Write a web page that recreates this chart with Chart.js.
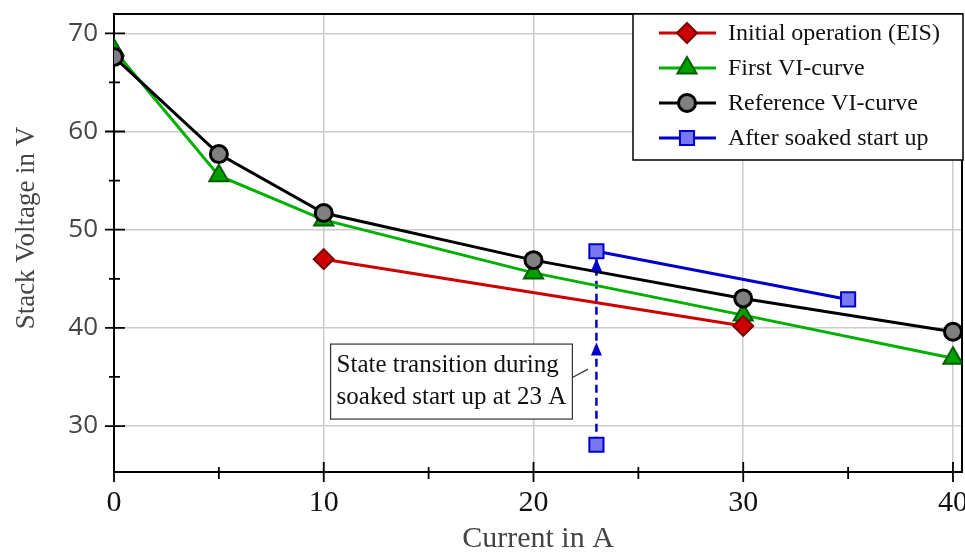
<!DOCTYPE html>
<html>
<head>
<meta charset="utf-8">
<script src="https://cdn.jsdelivr.net/npm/chart.js@4.4.1/dist/chart.umd.min.js"></script>
<style>
  html, body { margin: 0; padding: 0; background: #fff; }
  #wrap { width: 965px; height: 552px; position: relative; }
</style>
</head>
<body>
<div id="wrap"><canvas id="chart"></canvas></div>
<script>
// --- data ---
const seriesNames = ['Initial operation (EIS)', 'First VI-curve', 'Reference VI-curve', 'After soaked start up'];
const eisCurrent = [10, 30];
const eisVoltage = [47.0, 40.2];
const firstCurrent = [0, 5, 10, 20, 30, 40];
const firstVoltage = [68.3, 55.5, 51.0, 45.6, 41.3, 36.9];
const refCurrent = [0, 5, 10, 20, 30, 40];
const refVoltage = [67.6, 57.7, 51.7, 46.9, 43.0, 39.6];
const soakCurrent = [23, 35];
const soakVoltage = [47.8, 42.9];
const transitionCurrent = [23, 23];
const transitionVoltage = [28.1, 47.8];
const transitionArrows = [38.5, 47.1];
const xMajor = [0, 10, 20, 30, 40];
const xMinor = [5, 15, 25, 35];
const yMajor = [30, 40, 50, 60, 70];
const yMinor = [35, 45, 55, 65];
const yTitle = 'Stack Voltage in V';
const noteLines = ['State transition during', 'soaked start up at 23 A'];

const SERIF = '"Liberation Serif", "Times New Roman", serif';
const SANS = '"Open Sans", "DejaVu Sans", sans-serif';

const toXY = (xs, ys) => xs.map((x, i) => ({ x: x, y: ys[i] }));
const noPadding = () => ({ left: 0, top: 0, right: 0, bottom: 0 });

const datasets = [
    {
        label: seriesNames[0], data: toXY(eisCurrent, eisVoltage), order: 2,
        borderColor: '#cc0000', borderWidth: 3,
        pointStyle: 'rectRot', pointRadius: 10, pointBackgroundColor: '#cc0000',
        pointBorderColor: '#7a0000', pointBorderWidth: 2
    },
    {
        label: seriesNames[1], data: toXY(firstCurrent, firstVoltage), order: 3,
        borderColor: '#00b000', borderWidth: 3,
        pointStyle: 'triangle', pointRadius: 11, pointBackgroundColor: '#00a000',
        pointBorderColor: '#005f00', pointBorderWidth: 2
    },
    {
        label: seriesNames[2], data: toXY(refCurrent, refVoltage), order: 1,
        borderColor: '#000000', borderWidth: 3,
        pointStyle: 'circle', pointRadius: 8.5, pointBackgroundColor: '#808080',
        pointBorderColor: '#000000', pointBorderWidth: 3
    },
    {
        label: seriesNames[3], data: toXY(soakCurrent, soakVoltage), order: 0,
        borderColor: '#0000cc', borderWidth: 3,
        pointStyle: 'rect', pointRadius: 10, pointBackgroundColor: '#7878f0',
        pointBorderColor: '#0000cc', pointBorderWidth: 2
    },
    {
        label: 'transition', data: toXY(transitionCurrent, transitionVoltage), order: 4,
        borderColor: '#0000cc', borderWidth: 2.5, borderDash: [8, 5],
        pointStyle: 'rect', pointRadius: [10, 0], pointBackgroundColor: '#7878f0',
        pointBorderColor: '#0000cc', pointBorderWidth: 2
    }
];

// frame, tick marks, y title, arrows, note box and legend
const decorations = {
    id: 'decorations',
    beforeDatasetsDraw(chart) {
        const { ctx, chartArea: a, scales: { x, y } } = chart;
        ctx.save();
        ctx.strokeStyle = '#000';
        ctx.lineWidth = 2;
        ctx.strokeRect(a.left, a.top, a.right - a.left, a.bottom - a.top);
        ctx.lineWidth = 1.8;
        ctx.beginPath();
        yMajor.forEach(v => { const p = y.getPixelForValue(v); ctx.moveTo(a.left - 9, p); ctx.lineTo(a.left + 11, p); });
        yMinor.forEach(v => { const p = y.getPixelForValue(v); ctx.moveTo(a.left - 5, p); ctx.lineTo(a.left + 6, p); });
        xMajor.forEach(v => { const p = x.getPixelForValue(v); ctx.moveTo(p, a.bottom + 10); ctx.lineTo(p, a.bottom - 10); });
        xMinor.forEach(v => { const p = x.getPixelForValue(v); ctx.moveTo(p, a.bottom + 7); ctx.lineTo(p, a.bottom - 5); });
        ctx.stroke();

        // y axis title, placed a little above the plot centre as in the reference
        ctx.translate(34, 228);
        ctx.rotate(-Math.PI / 2);
        ctx.font = '27px ' + SERIF;
        ctx.fillStyle = '#444';
        ctx.textAlign = 'center';
        ctx.textBaseline = 'alphabetic';
        ctx.fillText(yTitle, 0, 0);
        ctx.restore();
    },
    afterDatasetsDraw(chart) {
        const { ctx, scales: { x, y } } = chart;
        ctx.save();

        // arrow heads on the dashed transition line
        ctx.fillStyle = '#0000cc';
        transitionArrows.forEach(v => {
            const px = x.getPixelForValue(transitionCurrent[0]);
            const py = y.getPixelForValue(v);
            ctx.beginPath();
            ctx.moveTo(px, py);
            ctx.lineTo(px - 5.5, py + 13);
            ctx.lineTo(px + 5.5, py + 13);
            ctx.closePath();
            ctx.fill();
        });

        // note box
        ctx.font = '25px ' + SERIF;
        const cx = x.getPixelForValue(16.09), cy = y.getPixelForValue(34.53);
        const w = Math.max(...noteLines.map(t => ctx.measureText(t).width)) + 12;
        const h = 75;
        ctx.fillStyle = '#fff';
        ctx.fillRect(cx - w / 2, cy - h / 2, w, h);
        ctx.strokeStyle = '#333';
        ctx.lineWidth = 1.2;
        ctx.strokeRect(cx - w / 2, cy - h / 2, w, h);
        ctx.beginPath();
        ctx.moveTo(cx + w / 2, cy - 4);
        ctx.lineTo(x.getPixelForValue(22.6), y.getPixelForValue(35.8));
        ctx.stroke();
        ctx.fillStyle = '#111';
        ctx.textAlign = 'left';
        ctx.textBaseline = 'middle';
        noteLines.forEach((t, i) => ctx.fillText(t, cx - w / 2 + 6, cy - 16 + i * 32));

        // legend
        const lx = 633, ly = 14, lw = 330, lh = 146;
        ctx.fillStyle = '#fff';
        ctx.fillRect(lx, ly, lw, lh);
        ctx.strokeStyle = '#000';
        ctx.lineWidth = 1.5;
        ctx.strokeRect(lx, ly, lw, lh);
        ctx.font = '24px ' + SERIF;
        seriesNames.forEach((name, i) => {
            const ds = chart.data.datasets[i];
            const ry = ly + 19 + i * 35;
            ctx.strokeStyle = ds.borderColor;
            ctx.lineWidth = ds.borderWidth;
            ctx.beginPath();
            ctx.moveTo(lx + 26, ry);
            ctx.lineTo(lx + 83, ry);
            ctx.stroke();
            ctx.fillStyle = ds.pointBackgroundColor;
            ctx.strokeStyle = ds.pointBorderColor;
            ctx.lineWidth = ds.pointBorderWidth;
            Chart.helpers.drawPoint(ctx, { pointStyle: ds.pointStyle, radius: ds.pointRadius, rotation: 0, borderWidth: ds.pointBorderWidth }, lx + 54, ry);
            ctx.fillStyle = '#111';
            ctx.fillText(name, lx + 95, ry + 1);
        });
        ctx.restore();
    }
};

new Chart(document.getElementById('chart'), {
    type: 'line',
    data: { datasets: datasets },
    options: {
        responsive: true, maintainAspectRatio: false, animation: false,
        layout: { autoPadding: false, padding: { top: 14, right: 3, left: 0, bottom: 0 } },
        plugins: { legend: { display: false }, tooltip: { enabled: false } },
        scales: {
            x: {
                type: 'linear', min: 0, max: 40.43,
                afterFit: s => { s.height = 80; s.paddingLeft = 0; s.paddingRight = 0; s.getPadding = noPadding; },
                afterBuildTicks: s => { s.ticks = xMajor.map(v => ({ value: v })); },
                grid: { color: '#cccccc', lineWidth: 1.5, drawTicks: false },
                border: { display: false },
                ticks: { padding: 13, color: '#111', font: { family: SERIF, size: 30 }, maxRotation: 0 },
                title: { display: true, text: 'Current in A', color: '#444', font: { family: SERIF, size: 30, lineHeight: 0.85 }, padding: { top: 0, bottom: 0 } }
            },
            y: {
                type: 'linear', min: 25.32, max: 71.97,
                afterFit: s => { s.width = 114; s.paddingTop = 0; s.paddingBottom = 0; s.getPadding = noPadding; },
                afterBuildTicks: s => { s.ticks = yMajor.map(v => ({ value: v })); },
                grid: { color: '#cccccc', lineWidth: 1.5, drawTicks: false },
                border: { display: false },
                ticks: { padding: 16, color: '#444', font: { family: SANS, size: 26 } }
            }
        }
    },
    plugins: [decorations]
});
</script>
</body>
</html>
